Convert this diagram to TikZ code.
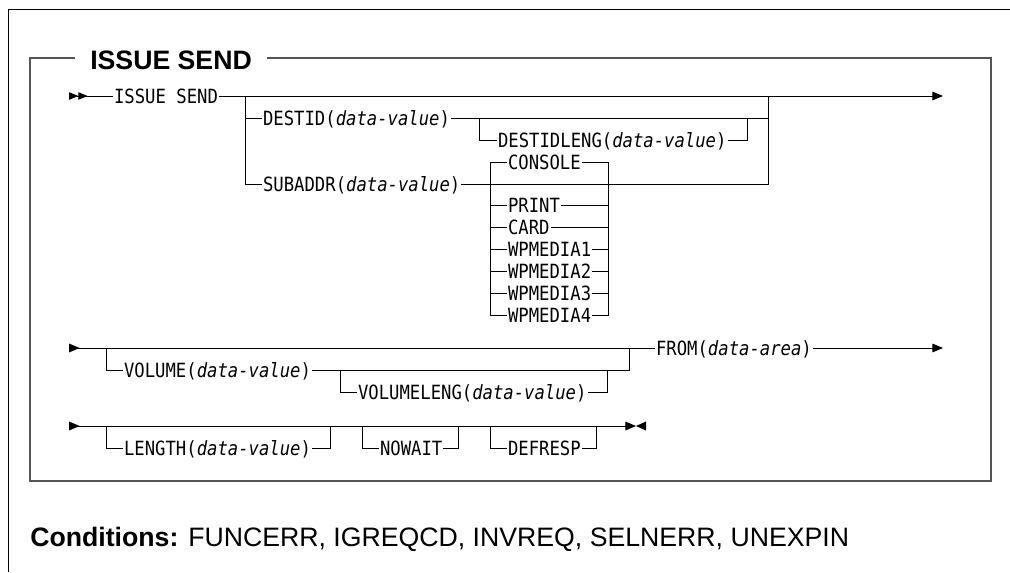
\documentclass[tikz,border=0pt]{standalone}
\usepackage{fontspec}
\setmainfont{Liberation Sans}
\newfontfamily\railfont[FakeStretch=0.88]{DejaVu Sans Mono}
\usetikzlibrary{arrows.meta}
\definecolor{boxline}{HTML}{555555}
\newcommand{\param}[1]{\textit{#1}}

\begin{document}
\begin{tikzpicture}[x=0.75pt,y=-0.75pt,
    kw/.style={anchor=west,inner xsep=0.6pt,inner ysep=0pt,text height=10.5pt,text depth=0pt,font=\railfont\fontsize{14.7pt}{16pt}\selectfont},
    rail/.style={line width=0.75pt,color=black},
    startone/.style={rail,{Triangle[reversed,length=8pt,width=6.5pt]}-},
    starttwo/.style={rail,{Triangle[reversed,length=7pt,width=5.5pt]Triangle[reversed,length=7pt,width=5.5pt]}-},
    finish/.style={rail,-{Triangle[length=8pt,width=6.5pt]}},
    through/.style={rail,{Triangle[reversed,length=8pt,width=6.5pt]}-{Triangle[length=8pt,width=6.5pt]}}
  ]
  \useasboundingbox (0,0) rectangle (1010,572);
  \draw[line width=0.75pt] (8,572) -- (8,9) -- (1010,9);
  \node[anchor=base west,inner sep=0pt,font=\bfseries\fontsize{20pt}{24pt}\selectfont] (ttl) at (90,69) {ISSUE SEND};
  \draw[boxline,line width=1pt] (75,58) -- (30,58) -- (30,481) -- (991,481) -- (991,58) -- (267,58);

  \coordinate (r1s) at (69,96);
  \coordinate (r1e) at (943,96);
  \node[kw] (isend) at (113,96) {ISSUE SEND};
  \draw[starttwo] (r1s) -- (isend.west);
  \draw[finish] (isend.east) -- (r1e);

  \coordinate (b1) at (245,96);
  \coordinate (m1) at (768,96);
  \node[kw] (destid) at (262,118) {DESTID(\param{data-value})};
  \node[kw] (subaddr) at (262,184) {SUBADDR(\param{data-value})};
  \draw[rail] (b1) |- (destid.west);
  \draw[rail] (b1) |- (subaddr.west);
  \draw[rail] (destid.east) -| (m1);
  \draw[rail] (subaddr.east) -| (m1);

  \coordinate (b2) at (479,118);
  \coordinate (m2) at (747,118);
  \node[kw] (dlen) at (497,140) {DESTIDLENG(\param{data-value})};
  \draw[rail] (b2) |- (dlen.west);
  \draw[rail] (dlen.east) -| (m2);

  \coordinate (cl) at (490,162);
  \coordinate (cr) at (608,162);
  \foreach \n/\t/\y in {con/CONSOLE/162,prt/PRINT/205,crd/CARD/227,wp1/WPMEDIA1/249,wp2/WPMEDIA2/271,wp3/WPMEDIA3/293,wp4/WPMEDIA4/315}{
    \node[kw] (\n) at (507,\y) {\t};
    \draw[rail] (\n.west) -| (cl);
    \draw[rail] (\n.east) -| (cr);
  }

  \coordinate (r2s) at (69,348);
  \coordinate (r2e) at (943,348);
  \node[kw] (from) at (655,348) {FROM(\param{data-area})};
  \draw[startone] (r2s) -- (from.west);
  \draw[finish] (from.east) -- (r2e);

  \coordinate (b3) at (106,348);
  \coordinate (m3) at (629,348);
  \node[kw] (vol) at (123,370) {VOLUME(\param{data-value})};
  \draw[rail] (b3) |- (vol.west);
  \draw[rail] (vol.east) -| (m3);

  \coordinate (b4) at (340,370);
  \coordinate (m4) at (607,370);
  \node[kw] (vlen) at (357,392) {VOLUMELENG(\param{data-value})};
  \draw[rail] (b4) |- (vlen.west);
  \draw[rail] (vlen.east) -| (m4);

  \coordinate (r3s) at (69,426);
  \coordinate (r3e) at (636,426);
  \draw[through] (r3s) -- (r3e);
  \fill (r3e) -- ++(10,-4.5) -- ++(0,9) -- cycle;
  \foreach \n/\t/\xb/\xm in {len/LENGTH(\param{data-value})/106/330,nw/NOWAIT/362/458,dr/DEFRESP/490/596}{
    \coordinate (\n b) at (\xb,426);
    \coordinate (\n m) at (\xm,426);
    \node[kw] (\n) at (\xb+17,448) {\t};
    \draw[rail] (\n b) |- (\n.west);
    \draw[rail] (\n.east) -| (\n m);
  }

  \node[anchor=base west,inner sep=0pt,font=\fontsize{20pt}{24pt}\selectfont] (cond) at (30,546) {\textbf{Conditions:} FUNCERR, IGREQCD, INVREQ, SELNERR, UNEXPIN};
\end{tikzpicture}
\end{document}
